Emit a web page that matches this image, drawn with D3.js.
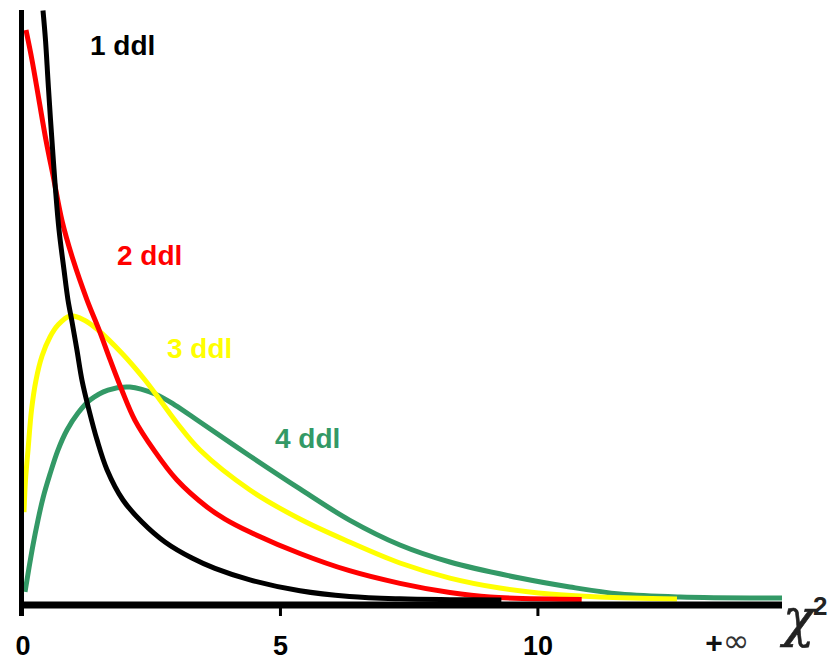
<!DOCTYPE html>
<html>
<head>
<meta charset="utf-8">
<script src="https://cdn.jsdelivr.net/npm/d3@7"></script>
<style>
  html, body { margin: 0; padding: 0; background: #ffffff; }
  svg { display: block; }
</style>
</head>
<body>
<div id="chart"></div>
<script>
// ---- data ----
const seriesNames = ["1 ddl", "2 ddl", "3 ddl", "4 ddl"];

const ddl1X = [0.398, 0.447, 0.495, 0.544, 0.592, 0.641, 0.709, 0.806, 0.883, 0.961, 1.058, 1.155, 1.291, 1.447, 1.641, 1.951, 2.320, 2.767, 3.291, 3.738, 4.417, 5.388, 6.35, 7.33, 8.3, 9.3];
const ddl1Y = [0.517, 0.491, 0.456, 0.422, 0.391, 0.361, 0.326, 0.291, 0.265, 0.246, 0.221, 0.195, 0.169, 0.143, 0.117, 0.0906, 0.0714, 0.054, 0.040, 0.031, 0.021, 0.0115, 0.0065, 0.0045, 0.0038, 0.0035];

const ddl2X = [0.068, 0.184, 0.320, 0.456, 0.612, 0.767, 0.981, 1.252, 1.485, 1.699, 1.932, 2.184, 2.553, 3.0, 3.583, 3.932, 4.417, 5.388, 6.35, 7.33, 8.30, 9.08, 10.86];
const ddl2Y = [0.500, 0.474, 0.439, 0.404, 0.369, 0.334, 0.300, 0.265, 0.239, 0.213, 0.186, 0.160, 0.134, 0.108, 0.0845, 0.0740, 0.0627, 0.044, 0.029, 0.018, 0.010, 0.006, 0.004];

const ddl3X = [0.029, 0.058, 0.107, 0.175, 0.262, 0.379, 0.534, 0.689, 0.922, 1.194, 1.466, 1.926, 2.379, 2.670, 3.0, 3.447, 4.417, 5.388, 6.35, 7.33, 8.30, 9.27, 10.24, 11.21, 12.71];
const ddl3Y = [0.0801, 0.108, 0.134, 0.169, 0.195, 0.216, 0.2326, 0.243, 0.2509, 0.2474, 0.2387, 0.2186, 0.1951, 0.1777, 0.1577, 0.1341, 0.0993, 0.0740, 0.054, 0.0357, 0.0226, 0.0139, 0.0087, 0.0061, 0.0044];

const ddl4X = [0.049, 0.126, 0.204, 0.301, 0.398, 0.534, 0.689, 0.864, 1.078, 1.311, 1.660, 2.087, 2.573, 2.961, 3.447, 4.417, 5.388, 6.35, 7.33, 8.30, 9.66, 10.63, 11.60, 12.77, 14.75];
const ddl4Y = [0.0105, 0.0314, 0.0514, 0.0732, 0.0923, 0.1132, 0.1341, 0.1516, 0.1664, 0.1777, 0.1864, 0.1890, 0.1829, 0.1733, 0.1585, 0.1289, 0.1002, 0.0731, 0.0514, 0.0366, 0.0226, 0.0148, 0.0087, 0.0061, 0.0052];

const xTickValues = [0, 5, 10];
const xTickLabels = ["0", "5", "10"];
const infinitySign = ["+", "∞"];
const axisTitle = "χ";
const axisTitleSup = "2";

// ---- layout / style (kept apart from data) ----
const W = 839, H = 663;
const colors = ["#000000", "#ff0000", "#ffff00", "#339966"];
const labelPos = [[1.31, 0.478], [1.835, 0.295], [2.806, 0.214], [4.903, 0.136]];
const infPos = 13.26;
const font = "'Liberation Sans', Arial, sans-serif";

const x = d3.scaleLinear().domain([0, 14.75]).range([22.5, 782]);
const y = d3.scaleLinear().domain([0, 0.5]).range([604, 30]);

const svg = d3.select("#chart").append("svg")
  .attr("width", W).attr("height", H);

svg.append("defs").append("clipPath").attr("id", "plotclip")
  .append("rect").attr("x", 0).attr("y", 10).attr("width", W).attr("height", H);

const seriesX = [ddl1X, ddl2X, ddl3X, ddl4X];
const seriesY = [ddl1Y, ddl2Y, ddl3Y, ddl4Y];

const line = d3.line()
  .x(d => x(d[0]))
  .y(d => y(d[1]))
  .curve(d3.curveCatmullRom.alpha(0.5));

const plot = svg.append("g").attr("clip-path", "url(#plotclip)");

// draw order: green, yellow, red, black on top
[3, 2, 1, 0].forEach(i => {
  const pts = seriesX[i].map((v, k) => [v, seriesY[i][k]]);
  plot.append("path")
    .datum(pts)
    .attr("d", line)
    .attr("fill", "none")
    .attr("stroke", colors[i])
    .attr("stroke-width", 5)
    .attr("stroke-linejoin", "round");
});

// x axis
const xAxis = d3.axisBottom(x)
  .tickValues(xTickValues)
  .tickFormat((d, i) => xTickLabels[i])
  .tickSizeInner(11)
  .tickSizeOuter(0)
  .tickPadding(20);

const gx = svg.append("g").attr("transform", "translate(0,605)").call(xAxis);
gx.select(".domain")
  .attr("d", `M${x(0) - 3},0H${x.range()[1]}`)
  .attr("stroke", "#000").attr("stroke-width", 7);
gx.selectAll(".tick line").attr("stroke", "#000").attr("stroke-width", 3)
  .filter(d => d === 0).remove();
gx.selectAll(".tick text")
  .attr("font-family", font).attr("font-size", 27).attr("font-weight", "bold")
  .attr("fill", "#000");

const inf = gx.append("text")
  .attr("x", x(infPos)).attr("y", 48)
  .attr("text-anchor", "start")
  .attr("fill", "#111");
inf.append("tspan")
  .attr("font-family", font).attr("font-size", 30).attr("font-weight", "bold")
  .text(infinitySign[0]);
inf.append("tspan")
  .attr("font-family", "'DejaVu Sans', sans-serif").attr("font-size", 32)
  .attr("fill", "#333")
  .attr("dy", -1)
  .text(infinitySign[1]);

// y axis
svg.append("line")
  .attr("x1", x(0) - 1).attr("x2", x(0) - 1)
  .attr("y1", 10).attr("y2", 616)
  .attr("stroke", "#000").attr("stroke-width", 5);

// axis title chi^2
svg.append("text")
  .attr("x", 783).attr("y", 636)
  .attr("font-family", "'DejaVu Serif', serif")
  .attr("font-style", "italic").attr("font-size", 52)
  .attr("fill", "#222").attr("stroke", "#222").attr("stroke-width", 0.6)
  .text(axisTitle);
svg.append("text")
  .attr("x", 813).attr("y", 615)
  .attr("font-family", font).attr("font-size", 26).attr("font-weight", "bold")
  .attr("fill", "#222")
  .text(axisTitleSup);

// series labels
seriesNames.forEach((name, i) => {
  svg.append("text")
    .attr("x", x(labelPos[i][0])).attr("y", y(labelPos[i][1]))
    .attr("font-family", font).attr("font-size", 28).attr("font-weight", "bold")
    .attr("fill", colors[i])
    .text(name);
});
</script>
</body>
</html>
